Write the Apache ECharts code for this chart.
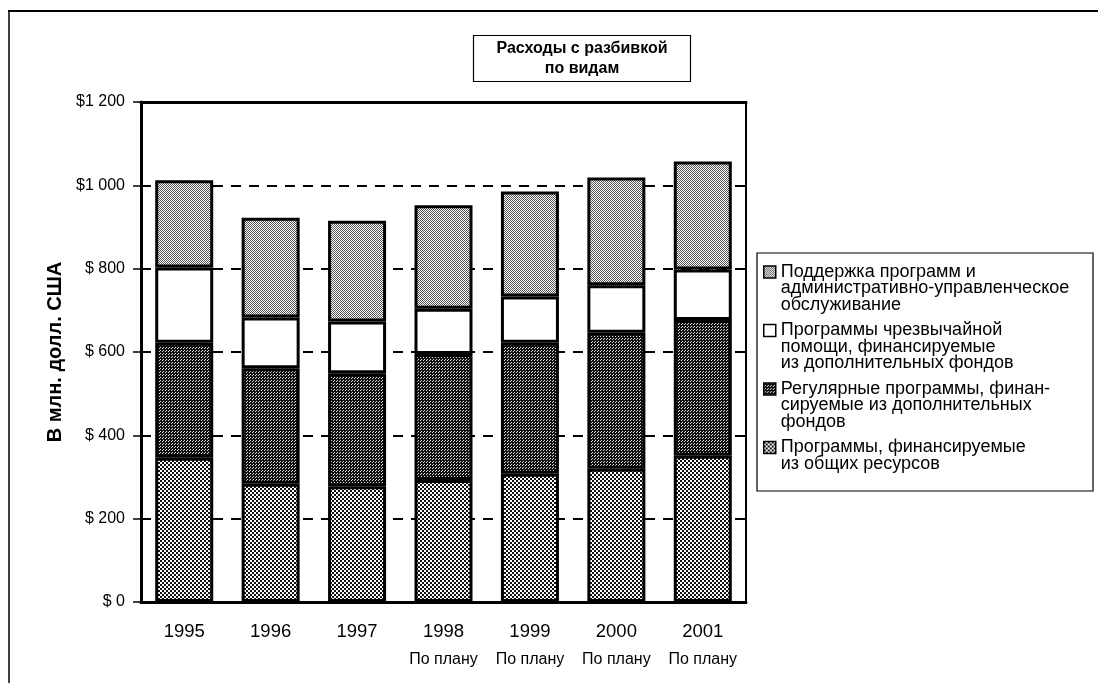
<!DOCTYPE html>
<html>
<head>
<meta charset="utf-8">
<script src="https://cdn.jsdelivr.net/npm/echarts@6/dist/echarts.min.js"></script>
<style>
html, body { margin: 0; background: #fff; }
#chart { width: 1098px; height: 683px; }
</style>
</head>
<body>
<div id="chart"></div>
<script>
// data (millions of USD)
const years = ['1995', '1996', '1997', '1998', '1999', '2000', '2001']
const planNotes = ['', '', '', 'По плану', 'По плану', 'По плану', 'По плану']
const generalResources = [346, 284, 278, 293, 308, 320, 351]
const regularExtra = [276, 277, 271, 302, 314, 326, 326]
const emergencyExtra = [181, 122, 124, 109, 111, 114, 121]
const supportAdmin = [209, 239, 242, 248, 252, 259, 259]
const yTickLabels = ['$ 0', '$ 200', '$ 400', '$ 600', '$ 800', '$1 000', '$1 200']
const seriesNames = [
	'Программы, финансируемые из общих ресурсов',
	'Регулярные программы, финансируемые из дополнительных фондов',
	'Программы чрезвычайной помощи, финансируемые из дополнительных фондов',
	'Поддержка программ и административно-управленческое обслуживание'
]
const legendLines = [
	['Программы, финансируемые', 'из общих ресурсов'],
	['Регулярные программы, финан-', 'сируемые из дополнительных', 'фондов'],
	['Программы чрезвычайной', 'помощи, финансируемые', 'из дополнительных фондов'],
	['Поддержка программ и', 'административно-управленческое', 'обслуживание']
]

const font = 'Liberation Sans, Arial, sans-serif'

// small tiles to mimic the print screens
const makePattern = function(size, bg, fg, cells) {
	let c = document.createElement('canvas')
	c.width = size
	c.height = size
	let ctx = c.getContext('2d')
	ctx.fillStyle = bg
	ctx.fillRect(0, 0, size, size)
	ctx.fillStyle = fg
	cells.forEach(p => ctx.fillRect(p[0], p[1], p[2] || 1, p[3] || 1))
	return { image: c, repeat: 'repeat' }
}
const fills = [
	makePattern(4, '#fff', '#111', [[0, 0, 2, 2], [2, 2, 2, 2]]),
	makePattern(3, '#111', '#ddd', [[0, 0], [1, 2]]),
	'#fff',
	makePattern(2, '#fff', '#555', [[0, 0], [1, 1]])
]
const dataSets = [generalResources, regularExtra, emergencyExtra, supportAdmin]

const series = dataSets.map((d, i) => ({
	name: seriesNames[i],
	type: 'bar',
	stack: 'total',
	barWidth: 58,
	data: d,
	itemStyle: {
		color: fills[i],
		borderColor: '#000',
		borderWidth: 3
	}
}))

// legend text is centred on its icon, so pad with empty lines to put the icon on the first line
const lh = 16.5
const legendText = function(name) {
	let lines = legendLines[seriesNames.indexOf(name)]
	let out = ['', ''].concat(lines)
	while (out.length < 5) out.push(' ')
	return out.join('\n')
}

const option = {
	animation: false,
	backgroundColor: '#fff',
	title: {
		text: 'Расходы с разбивкой\nпо видам',
		left: 559,
		top: 35,
		textAlign: 'center',
		padding: [4, 23, 3, 23],
		borderColor: '#000',
		borderWidth: 1.2,
		textStyle: {
			fontFamily: font,
			fontWeight: 'bold',
			fontSize: 16,
			lineHeight: 20,
			color: '#000'
		}
	},
	legend: {
		orient: 'vertical',
		left: 763,
		top: 230,
		padding: 0,
		itemGap: 57 - 5 * lh,
		itemWidth: 12,
		itemHeight: 12,
		icon: 'rect',
		selectedMode: false,
		itemStyle: { borderColor: '#000', borderWidth: 1.5 },
		textStyle: { fontFamily: font, fontSize: 18, lineHeight: lh, color: '#000' },
		formatter: legendText,
		data: [seriesNames[3], seriesNames[2], seriesNames[1], seriesNames[0]]
	},
	grid: {
		left: 141,
		right: 352,
		top: 102,
		bottom: 81,
		show: true,
		borderColor: '#000',
		borderWidth: 2
	},
	xAxis: [{
		type: 'category',
		data: years,
		axisLine: { lineStyle: { color: '#000', width: 3 } },
		axisTick: { length: 8, lineStyle: { color: '#000', width: 1.5 } },
		axisLabel: {
			interval: 0,
			margin: 16,
			formatter: function(v, i) {
				return '{y|' + v + '}' + (planNotes[i] ? '\n{p|' + planNotes[i] + '}' : '')
			},
			rich: {
				y: { fontFamily: font, fontSize: 18.5, lineHeight: 28, color: '#000' },
				p: { fontFamily: font, fontSize: 16, lineHeight: 28, color: '#000' }
			}
		}
	}, {
		type: 'category',
		data: years,
		position: 'top',
		axisLine: { lineStyle: { color: '#000', width: 3 } },
		axisTick: { show: false },
		axisLabel: { show: false }
	}],
	yAxis: {
		type: 'value',
		min: 0,
		max: 1200,
		interval: 200,
		name: 'В млн. долл. США',
		nameLocation: 'middle',
		nameGap: 70,
		nameTextStyle: { fontFamily: font, fontSize: 20, fontWeight: 'bold', color: '#000' },
		axisLine: { show: true, lineStyle: { color: '#000', width: 3 } },
		axisTick: { show: true, length: 8, lineStyle: { color: '#000', width: 1.5 } },
		axisLabel: {
			margin: 16,
			fontFamily: font,
			fontSize: 16,
			color: '#000',
			formatter: function(v) {
				return yTickLabels[v / 200]
			}
		},
		splitLine: {
			show: true,
			showMinLine: false,
			showMaxLine: false,
			lineStyle: { color: '#000', width: 2, type: [10, 8] }
		}
	},
	graphic: [
		{ type: 'line', shape: { x1: 8, y1: 11, x2: 1098, y2: 11 }, style: { stroke: '#000', lineWidth: 2 } },
		{ type: 'line', shape: { x1: 9, y1: 11, x2: 9, y2: 683 }, style: { stroke: '#000', lineWidth: 1.5 } },
		{ type: 'rect', shape: { x: 757, y: 253, width: 336, height: 238 }, style: { fill: 'none', stroke: '#000', lineWidth: 1.2 } }
	],
	series: series
}

let myChart = echarts.init(document.getElementById('chart'))
myChart.setOption(option)
</script>
</body>
</html>
